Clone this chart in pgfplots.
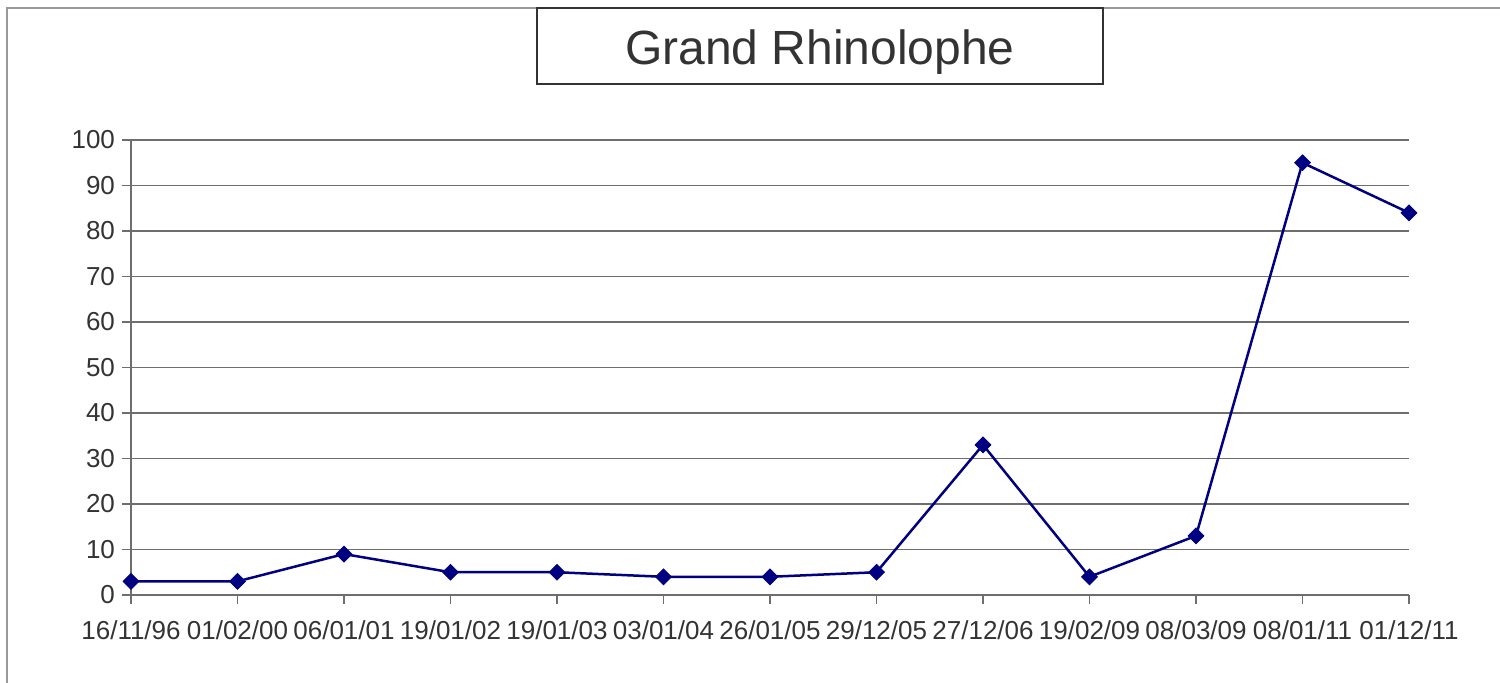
\documentclass[border=0pt]{standalone}
\usepackage{pgfplots}
\pgfplotsset{compat=1.18}
\usepackage{fontspec}
\setmainfont{Liberation Sans}
\definecolor{navyline}{RGB}{0,0,128}
\definecolor{txt}{RGB}{51,51,51}
\definecolor{gridc}{RGB}{110,110,110}
\begin{document}
\begin{tikzpicture}
\path[use as bounding box] (0,0) rectangle (750pt,341.5pt);
\draw[gray!80, line width=0.8pt] (3.5pt,0) -- (3.5pt,337.5pt) -- (750pt,337.5pt);
\draw[black!80, line width=0.6pt] (268.5pt,299.5pt) rectangle (551.5pt,337.5pt);
\node[text=txt, font=\fontsize{24}{27}\selectfont, inner sep=0pt] at (410pt,315.5pt) {Grand Rhinolophe};
\begin{axis}[
  at={(65.5pt,44pt)}, anchor=south west,
  scale only axis, width=639pt, height=227.5pt,
  xmin=0, xmax=12, ymin=0, ymax=100,
  xtick={0,...,12},
  xticklabels={16/11/96,01/02/00,06/01/01,19/01/02,19/01/03,03/01/04,26/01/05,29/12/05,27/12/06,19/02/09,08/03/09,08/01/11,01/12/11},
  ytick={0,10,...,100},
  axis lines=left, axis line style={gridc, line width=0.6pt, -},
  tick align=outside, major tick length=4.5pt,
  tick style={gridc, line width=0.6pt},
  ymajorgrids, grid style={gridc, line width=0.6pt},
  tick label style={text=txt, font=\fontsize{13}{15}\selectfont},
  /pgf/number format/assume math mode=true,
  xticklabel style={yshift=-5pt},
  clip=false,
]
\addplot[navyline, line width=1.25pt, mark=square*, mark size=2.8pt, mark options={rotate=45, fill=navyline, draw=navyline, line width=0.4pt}]
coordinates {(0,3)(1,3)(2,9)(3,5)(4,5)(5,4)(6,4)(7,5)(8,33)(9,4)(10,13)(11,95)(12,84)};
\end{axis}
\end{tikzpicture}
\end{document}
